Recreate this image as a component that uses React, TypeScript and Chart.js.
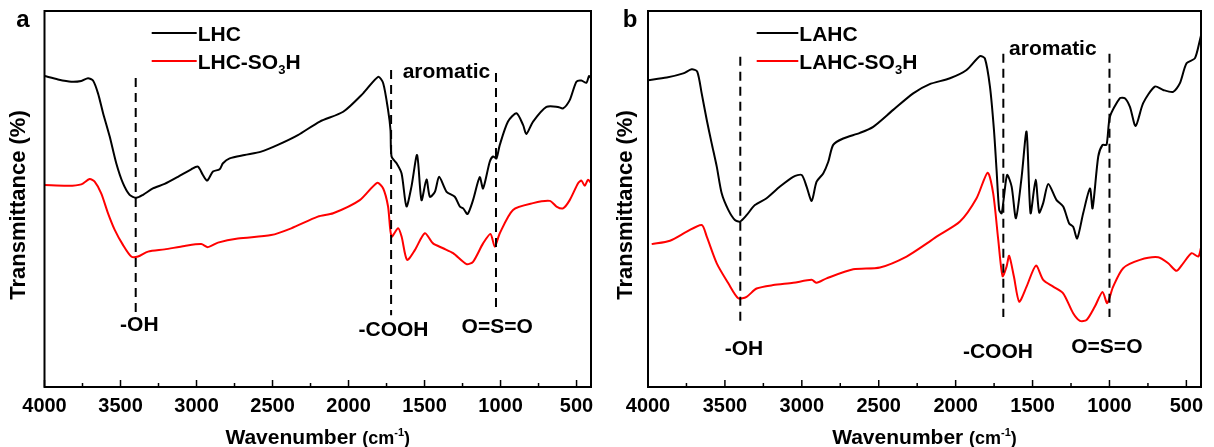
import React, { useEffect, useRef } from "react";
import { Chart, registerables } from "chart.js";
Chart.register(...registerables);

const FONT = "'Liberation Sans', Arial, sans-serif";

// ---------- axis ----------
const X_TICKS = [4000, 3500, 3000, 2500, 2000, 1500, 1000, 500];
const X_MINOR = [3750, 3250, 2750, 2250, 1750, 1250, 750];
const X_MIN = 405;
const X_MAX = 4000;

// ---------- panel a : LHC ----------
const LHC_WN = [4000, 3911, 3824, 3758, 3714, 3681, 3648, 3615, 3571, 3528, 3484, 3440, 3396, 3352, 3287, 3210, 3122, 3035, 2991, 2958, 2930, 2892, 2848, 2826, 2782, 2684, 2575, 2465, 2333, 2189, 2035, 1904, 1805, 1772, 1740, 1724, 1717, 1684, 1651, 1619, 1586, 1549, 1520, 1487, 1465, 1432, 1404, 1355, 1301, 1268, 1246, 1217, 1181, 1137, 1115, 1071, 1049, 1027, 1005, 951, 895, 852, 830, 786, 698, 622, 589, 545, 501, 468, 435, 418, 405];
const LHC_T = [82.7, 81.8, 81.2, 81.4, 82.1, 81.5, 78.1, 72.9, 66.6, 59.5, 54.2, 51.1, 50.3, 51.1, 52.8, 54.0, 55.9, 57.9, 58.6, 56.4, 54.9, 57.3, 57.9, 59.5, 60.8, 61.7, 62.6, 64.4, 67.0, 70.6, 73.2, 78.1, 82.5, 80.8, 73.7, 68.4, 61.3, 59.5, 56.8, 48.0, 53.3, 61.7, 49.7, 55.2, 50.6, 51.9, 55.9, 51.9, 50.6, 48.0, 47.5, 46.0, 49.7, 55.8, 52.8, 59.9, 61.3, 60.8, 64.4, 70.6, 72.8, 69.7, 67.3, 70.6, 74.5, 74.5, 74.1, 76.3, 81.2, 81.5, 80.9, 82.7, 82.2];

// ---------- panel a : LHC-SO3H ----------
const LHCS_WN = [4000, 3845, 3758, 3703, 3670, 3627, 3582, 3538, 3484, 3429, 3385, 3319, 3210, 3078, 2969, 2925, 2859, 2728, 2509, 2377, 2202, 2101, 1926, 1812, 1772, 1740, 1717, 1674, 1651, 1615, 1564, 1498, 1444, 1378, 1312, 1224, 1181, 1115, 1066, 1038, 1005, 918, 786, 676, 632, 589, 545, 490, 468, 446, 425, 405];
const LHCS_T = [53.7, 53.5, 53.9, 55.3, 54.6, 51.5, 46.2, 41.8, 37.8, 34.7, 34.7, 36.0, 36.6, 37.5, 38.0, 37.2, 38.4, 39.5, 40.4, 42.2, 45.3, 46.2, 49.7, 54.3, 52.8, 48.0, 40.0, 42.2, 40.0, 33.8, 36.4, 40.9, 38.2, 36.9, 35.6, 32.7, 33.3, 38.2, 40.7, 37.3, 40.9, 47.1, 48.9, 49.5, 48.0, 47.5, 49.7, 54.2, 54.9, 53.5, 55.1, 54.3];

// ---------- panel b : LAHC ----------
const LAHC_WN = [4000, 3878, 3771, 3716, 3680, 3651, 3618, 3586, 3553, 3521, 3478, 3435, 3402, 3359, 3305, 3229, 3142, 3056, 3001, 2969, 2936, 2904, 2861, 2828, 2796, 2731, 2622, 2536, 2406, 2276, 2172, 2037, 1929, 1842, 1810, 1777, 1751, 1734, 1717, 1701, 1686, 1665, 1636, 1608, 1571, 1539, 1513, 1480, 1457, 1431, 1398, 1344, 1301, 1262, 1236, 1210, 1171, 1127, 1110, 1073, 1045, 1019, 997, 932, 900, 867, 830, 781, 705, 651, 586, 542, 499, 445, 412, 405];
const LAHC_T = [81.6, 82.3, 83.4, 84.5, 83.9, 78.1, 71.0, 64.8, 58.6, 51.5, 47.1, 44.4, 44.0, 45.7, 48.4, 50.2, 53.3, 55.9, 56.4, 53.3, 49.5, 54.6, 56.8, 59.9, 64.4, 66.1, 67.6, 69.2, 73.7, 78.1, 80.5, 82.1, 84.3, 88.0, 87.4, 79.9, 68.4, 57.7, 47.1, 46.2, 50.6, 56.4, 53.3, 44.9, 55.9, 67.9, 46.2, 55.1, 46.4, 48.9, 54.0, 49.7, 48.0, 43.5, 42.6, 39.5, 46.2, 52.8, 47.5, 61.3, 64.4, 64.4, 71.9, 76.8, 76.8, 74.5, 69.4, 75.5, 79.9, 79.0, 78.5, 80.8, 86.1, 87.4, 92.3, 93.5];

// ---------- panel b : LAHC-SO3H ----------
const LAHCS_WN = [3976, 3857, 3748, 3651, 3618, 3553, 3478, 3413, 3359, 3294, 3186, 3056, 2936, 2904, 2839, 2666, 2492, 2319, 2172, 2124, 1972, 1864, 1792, 1756, 1723, 1695, 1669, 1652, 1621, 1587, 1539, 1478, 1431, 1366, 1301, 1236, 1192, 1149, 1095, 1045, 1015, 976, 911, 802, 683, 618, 564, 521, 466, 423, 405];
const LAHCS_T = [38.0, 38.9, 41.3, 43.1, 40.0, 32.9, 27.6, 23.6, 24.0, 26.2, 27.1, 27.7, 28.5, 27.7, 28.9, 31.3, 31.8, 34.7, 38.6, 40.0, 44.0, 50.2, 57.0, 51.5, 39.1, 29.5, 32.0, 34.9, 29.3, 22.7, 26.7, 32.3, 28.5, 26.7, 24.9, 19.6, 17.6, 17.8, 21.4, 25.3, 22.3, 26.7, 31.6, 33.8, 34.5, 32.9, 30.9, 32.9, 35.6, 34.7, 37.0];

// ---------- annotation content ----------
const A_DASHES = [3400, 1720, 1030];
const B_DASHES = [3400, 1690, 1000];
const A_LABELS = ["-OH", "-COOH", "O=S=O", "aromatic"];
const B_LABELS = ["-OH", "-COOH", "O=S=O", "aromatic"];

const pts = (wn: number[], t: number[]) => wn.map((w, i) => ({ x: w, y: t[i] }));

type Series = { main: string; sub?: string; tail?: string; wn: number[]; t: number[]; color: string };
type PanelCfg = {
  letter: string;
  padLeft: number;
  padRight: number;
  padTop: number;
  series: Series[];
  legendX: [number, number];
  legendY: number[];
  dashes: { w: number; top: number; bottom: number }[];
  notes: { text: string; w: number; y: number }[];
};

const PANELS: PanelCfg[] = [
  {
    letter: "a",
    padLeft: 44.5,
    padRight: 16,
    padTop: 11,
    series: [
      { main: "LHC", wn: LHC_WN, t: LHC_T, color: "#000000" },
      { main: "LHC-SO", sub: "3", tail: "H", wn: LHCS_WN, t: LHCS_T, color: "#ff0000" },
    ],
    legendX: [151.7, 196.7],
    legendY: [33, 61],
    dashes: [
      { w: A_DASHES[0], top: 82.2, bottom: 19.7 },
      { w: A_DASHES[1], top: 84.3, bottom: 19.1 },
      { w: A_DASHES[2], top: 83.5, bottom: 21.0 },
    ],
    notes: [
      { text: A_LABELS[0], w: 3376, y: 16.5 },
      { text: A_LABELS[1], w: 1704, y: 15.2 },
      { text: A_LABELS[2], w: 1022, y: 16.0 },
      { text: A_LABELS[3], w: 1356, y: 83.6 },
    ],
  },
  {
    letter: "b",
    padLeft: 41,
    padRight: 13,
    padTop: 11,
    series: [
      { main: "LAHC", wn: LAHC_WN, t: LAHC_T, color: "#000000" },
      { main: "LAHC-SO", sub: "3", tail: "H", wn: LAHCS_WN, t: LAHCS_T, color: "#ff0000" },
    ],
    legendX: [149.7, 191.3],
    legendY: [33, 61],
    dashes: [
      { w: B_DASHES[0], top: 87.8, bottom: 16.0 },
      { w: B_DASHES[1], top: 88.6, bottom: 18.6 },
      { w: B_DASHES[2], top: 88.6, bottom: 18.6 },
    ],
    notes: [
      { text: B_LABELS[0], w: 3376, y: 10.1 },
      { text: B_LABELS[1], w: 1725, y: 9.3 },
      { text: B_LABELS[2], w: 1017, y: 10.6 },
      { text: B_LABELS[3], w: 1368, y: 89.9 },
    ],
  },
];

function decor(cfg: PanelCfg) {
  return {
    id: "decor",
    afterDraw(chart: any) {
      const { ctx, chartArea: a } = chart;
      const x = chart.scales.x;
      const y = chart.scales.y;
      const line = (x0: number, y0: number, x1: number, y1: number) => {
        ctx.beginPath();
        ctx.moveTo(x0, y0);
        ctx.lineTo(x1, y1);
        ctx.stroke();
      };
      ctx.save();
      ctx.strokeStyle = "#000";
      ctx.fillStyle = "#000";

      // frame
      ctx.lineWidth = 2;
      ctx.strokeRect(a.left, a.top, a.right - a.left, a.bottom - a.top);

      // inward ticks
      ctx.lineWidth = 1.5;
      X_TICKS.forEach((v) => {
        const px = x.getPixelForValue(v);
        line(px, a.bottom, px, a.bottom - 7);
      });
      X_MINOR.forEach((v) => {
        const px = x.getPixelForValue(v);
        line(px, a.bottom, px, a.bottom - 4);
      });

      // dashed markers
      ctx.lineWidth = 2;
      ctx.setLineDash([9, 6]);
      cfg.dashes.forEach((d) => {
        const px = x.getPixelForValue(d.w);
        line(px, y.getPixelForValue(d.top), px, y.getPixelForValue(d.bottom));
      });
      ctx.setLineDash([]);

      // notes
      ctx.font = `bold 21px ${FONT}`;
      ctx.textAlign = "center";
      ctx.textBaseline = "middle";
      cfg.notes.forEach((n) => ctx.fillText(n.text, x.getPixelForValue(n.w), y.getPixelForValue(n.y)));

      // legend
      ctx.textAlign = "left";
      ctx.textBaseline = "alphabetic";
      cfg.series.forEach((s, i) => {
        const ly = cfg.legendY[i];
        ctx.strokeStyle = s.color;
        ctx.lineWidth = 2;
        line(cfg.legendX[0], ly, cfg.legendX[1], ly);
        let tx = cfg.legendX[1] + 1;
        const base = ly + 7.5;
        ctx.font = `bold 21px ${FONT}`;
        ctx.fillText(s.main, tx, base);
        tx += ctx.measureText(s.main).width;
        if (s.sub) {
          ctx.font = `bold 13px ${FONT}`;
          ctx.fillText(s.sub, tx, base + 5);
          tx += ctx.measureText(s.sub).width;
        }
        if (s.tail) {
          ctx.font = `bold 21px ${FONT}`;
          ctx.fillText(s.tail, tx, base);
        }
      });

      // panel letter
      ctx.font = `bold 24px ${FONT}`;
      ctx.textAlign = "center";
      ctx.textBaseline = "middle";
      ctx.fillText(cfg.letter, 23, 20);

      // x title
      const parts: [string, number, number][] = [
        ["Wavenumber ", 21, 0],
        ["(cm", 18, 0],
        ["-1", 11, -8],
        [")", 18, 0],
      ];
      ctx.textAlign = "left";
      ctx.textBaseline = "alphabetic";
      let total = 0;
      parts.forEach(([t, s]) => {
        ctx.font = `bold ${s}px ${FONT}`;
        total += ctx.measureText(t).width;
      });
      let cx = (a.left + a.right) / 2 - total / 2;
      parts.forEach(([t, s, dy]) => {
        ctx.font = `bold ${s}px ${FONT}`;
        ctx.fillText(t, cx, 444 + dy);
        cx += ctx.measureText(t).width;
      });

      // y title
      ctx.translate(19, (a.top + a.bottom) / 2 + 6);
      ctx.rotate(-Math.PI / 2);
      ctx.font = `bold 22px ${FONT}`;
      ctx.textAlign = "center";
      ctx.textBaseline = "middle";
      ctx.fillText("Transmittance (%)", 0, 0);

      ctx.restore();
    },
  };
}

function Panel({ cfg }: { cfg: PanelCfg }) {
  const ref = useRef<HTMLCanvasElement>(null);
  useEffect(() => {
    const chart = new Chart(ref.current as HTMLCanvasElement, {
      type: "line",
      data: {
        datasets: cfg.series.map((s) => ({
          label: s.main + (s.sub || "") + (s.tail || ""),
          data: pts(s.wn, s.t),
          borderColor: s.color,
          backgroundColor: s.color,
          borderWidth: 2,
          pointRadius: 0,
          tension: 0.25,
          fill: false,
        })),
      },
      options: {
        responsive: false,
        animation: false,
        devicePixelRatio: 1,
        layout: { padding: { left: cfg.padLeft, right: cfg.padRight, top: cfg.padTop, bottom: 0 } },
        plugins: { legend: { display: false }, tooltip: { enabled: false } },
        scales: {
          x: {
            type: "linear",
            reverse: true,
            min: X_MIN,
            max: X_MAX,
            grid: { display: false, drawTicks: false },
            border: { display: false },
            afterBuildTicks: (s: any) => {
              s.ticks = X_TICKS.map((v) => ({ value: v }));
            },
            afterFit: (s: any) => {
              s.height = 60;
            },
            ticks: {
              color: "#000",
              font: { family: FONT, weight: "bold", size: 20 },
              padding: 7,
              maxRotation: 0,
              autoSkip: false,
              callback: (v: any) => String(v),
            },
          },
          y: { display: false, min: 0, max: 100 },
        },
      } as any,
      plugins: [decor(cfg)],
    });
    return () => chart.destroy();
  }, [cfg]);
  return <canvas ref={ref} width={607} height={447} style={{ display: "block", width: 607, height: 447 }} />;
}

export default function App() {
  return (
    <div style={{ position: "absolute", left: 0, top: 0, width: 1214, height: 447, display: "flex", background: "#fff" }}>
      {PANELS.map((p) => (
        <Panel key={p.letter} cfg={p} />
      ))}
    </div>
  );
}
